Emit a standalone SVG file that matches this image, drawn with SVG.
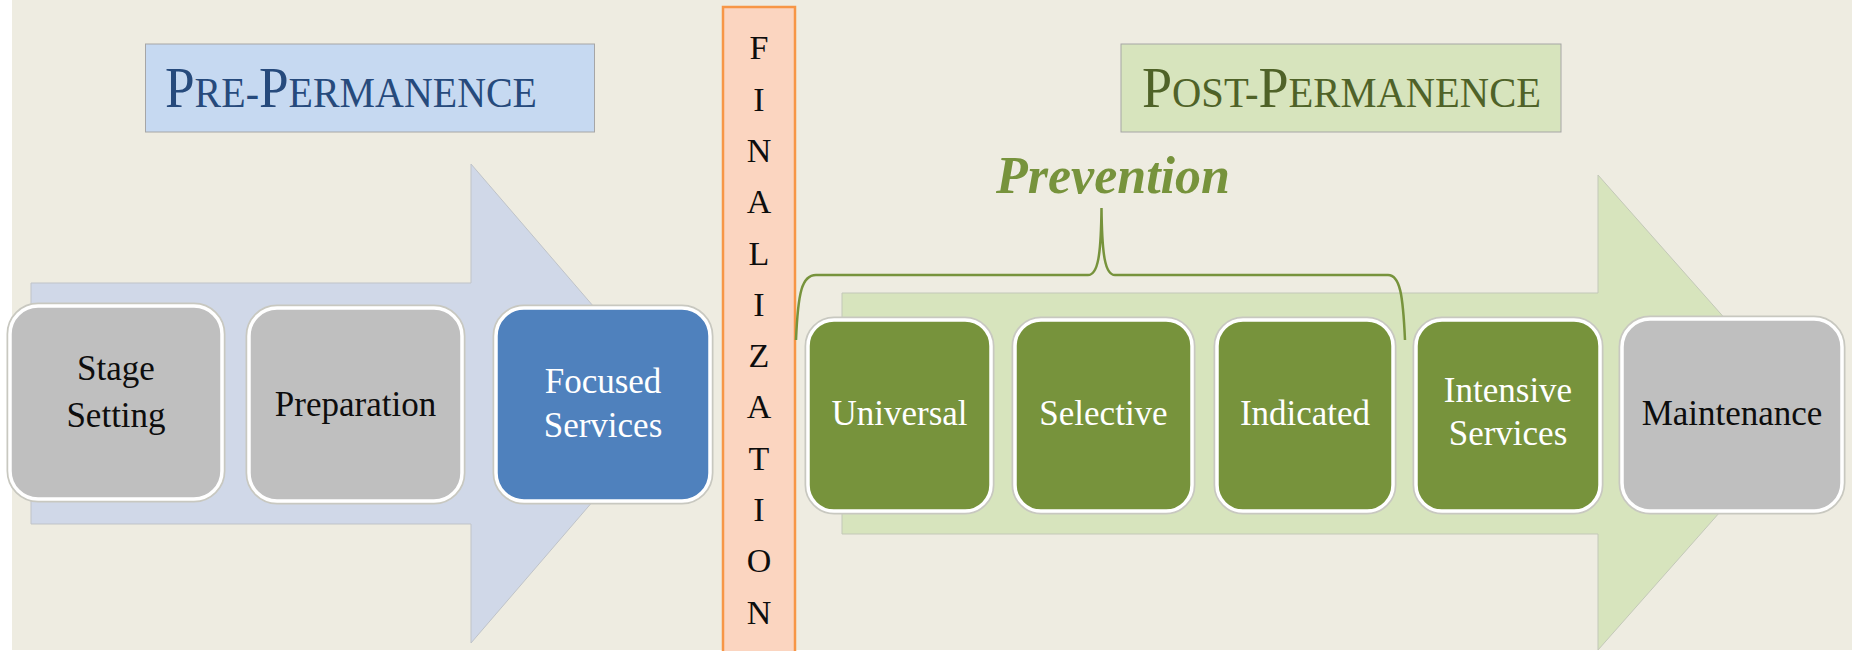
<svg xmlns="http://www.w3.org/2000/svg" width="1852" height="651" viewBox="0 0 1852 651">
<style>
.node rect{stroke:#ffffff;stroke-width:3.5}
.node .sh{fill:none;stroke:#c8c8c0;stroke-width:7}
.lbl{font-family:"Liberation Serif","Times New Roman",serif;font-size:35px;text-anchor:middle}
.dk{fill:#0d0d0d}
.wt{fill:#ffffff}
.gray{fill:#BFBFBF}
.blue{fill:#4F81BD}
.green{fill:#77933C}
.fin{font-family:"Liberation Serif","Times New Roman",serif;font-size:34px;text-anchor:middle;fill:#0d0d0d}
.hdr{font-family:"Liberation Serif","Times New Roman",serif}
</style>
<rect x="0" y="0" width="1852" height="651" fill="#ffffff"/>
<rect x="12" y="0" width="1840" height="650" fill="#EEECE1"/>

<g id="pre-arrow">
<polygon points="31,283 471,283 471,164 677,403.5 471,643 471,524 31,524" fill="#D0D8E8" stroke="#bfc3c8" stroke-width="1"/>
</g>
<g id="post-arrow">
<polygon points="842,293 1598,293 1598,175 1808,412.5 1598,650 1598,534 842,534" fill="#D7E4BD" stroke="#c3c8b8" stroke-width="1"/>
</g>

<g id="pre-permanence">
<rect x="145.5" y="44" width="449" height="88" fill="#C6D9F1" stroke="#a6a6a6" stroke-width="1"/>
<text class="hdr" x="165" y="107" fill="#264A7C" textLength="372" lengthAdjust="spacingAndGlyphs"><tspan font-size="56">P</tspan><tspan font-size="42">RE-</tspan><tspan font-size="56">P</tspan><tspan font-size="42">ERMANENCE</tspan></text>
</g>

<g id="post-permanence">
<rect x="1121" y="44" width="440" height="88" fill="#D7E4BD" stroke="#a6a6a6" stroke-width="1"/>
<text class="hdr" x="1142" y="107" fill="#4F6228" textLength="399" lengthAdjust="spacingAndGlyphs"><tspan font-size="56">P</tspan><tspan font-size="42">OST-</tspan><tspan font-size="56">P</tspan><tspan font-size="42">ERMANENCE</tspan></text>
</g>

<g id="finalization">
<rect x="723" y="7" width="72" height="646" fill="#FBD5C0" stroke="#F79646" stroke-width="2.5"/>
<text class="fin" x="759" y="59">F</text>
<text class="fin" x="759" y="111">I</text>
<text class="fin" x="759" y="162">N</text>
<text class="fin" x="759" y="213">A</text>
<text class="fin" x="759" y="265">L</text>
<text class="fin" x="759" y="316">I</text>
<text class="fin" x="759" y="367">Z</text>
<text class="fin" x="759" y="418">A</text>
<text class="fin" x="759" y="470">T</text>
<text class="fin" x="759" y="521">I</text>
<text class="fin" x="759" y="572">O</text>
<text class="fin" x="759" y="624">N</text>
</g>

<g id="connectors">
<path d="M796,340 C798,292 802,275 816,275 L1088,275 C1098,275 1101,255 1101.5,208 C1102,255 1105,275 1115,275 L1388,275 C1400,275 1403,295 1405,340" fill="none" stroke="#77933C" stroke-width="2.5"/>
</g>

<g id="prevention">
<text x="1113" y="193" font-family="'Liberation Serif','Times New Roman',serif" font-size="52" font-style="italic" font-weight="bold" fill="#77933C" text-anchor="middle">Prevention</text>
</g>

<g id="stage-setting" class="node">
<rect class="sh" x="10" y="306" width="212" height="193" rx="28"/>
<rect class="gray" x="10" y="306" width="212" height="193" rx="28"/>
<text class="lbl dk" x="116" y="380">Stage</text>
<text class="lbl dk" x="116" y="427">Setting</text>
</g>

<g id="preparation" class="node">
<rect class="sh" x="249" y="308" width="213" height="193" rx="28"/>
<rect class="gray" x="249" y="308" width="213" height="193" rx="28"/>
<text class="lbl dk" x="355.5" y="416">Preparation</text>
</g>

<g id="focused-services" class="node">
<rect class="sh" x="496" y="308" width="214" height="193" rx="28"/>
<rect class="blue" x="496" y="308" width="214" height="193" rx="28"/>
<text class="lbl wt" x="603" y="393">Focused</text>
<text class="lbl wt" x="603" y="437">Services</text>
</g>

<g id="universal" class="node">
<rect class="sh" x="808" y="320" width="183" height="191" rx="26"/>
<rect class="green" x="808" y="320" width="183" height="191" rx="26"/>
<text class="lbl wt" x="899.5" y="425">Universal</text>
</g>

<g id="selective" class="node">
<rect class="sh" x="1015" y="320" width="177" height="191" rx="26"/>
<rect class="green" x="1015" y="320" width="177" height="191" rx="26"/>
<text class="lbl wt" x="1103.5" y="425">Selective</text>
</g>

<g id="indicated" class="node">
<rect class="sh" x="1217" y="320" width="176" height="191" rx="26"/>
<rect class="green" x="1217" y="320" width="176" height="191" rx="26"/>
<text class="lbl wt" x="1305" y="425">Indicated</text>
</g>

<g id="intensive-services" class="node">
<rect class="sh" x="1416" y="320" width="184" height="191" rx="26"/>
<rect class="green" x="1416" y="320" width="184" height="191" rx="26"/>
<text class="lbl wt" x="1508" y="402">Intensive</text>
<text class="lbl wt" x="1508" y="445">Services</text>
</g>

<g id="maintenance" class="node">
<rect class="sh" x="1622" y="319" width="220" height="192" rx="28"/>
<rect class="gray" x="1622" y="319" width="220" height="192" rx="28"/>
<text class="lbl dk" x="1732" y="425">Maintenance</text>
</g>
</svg>
